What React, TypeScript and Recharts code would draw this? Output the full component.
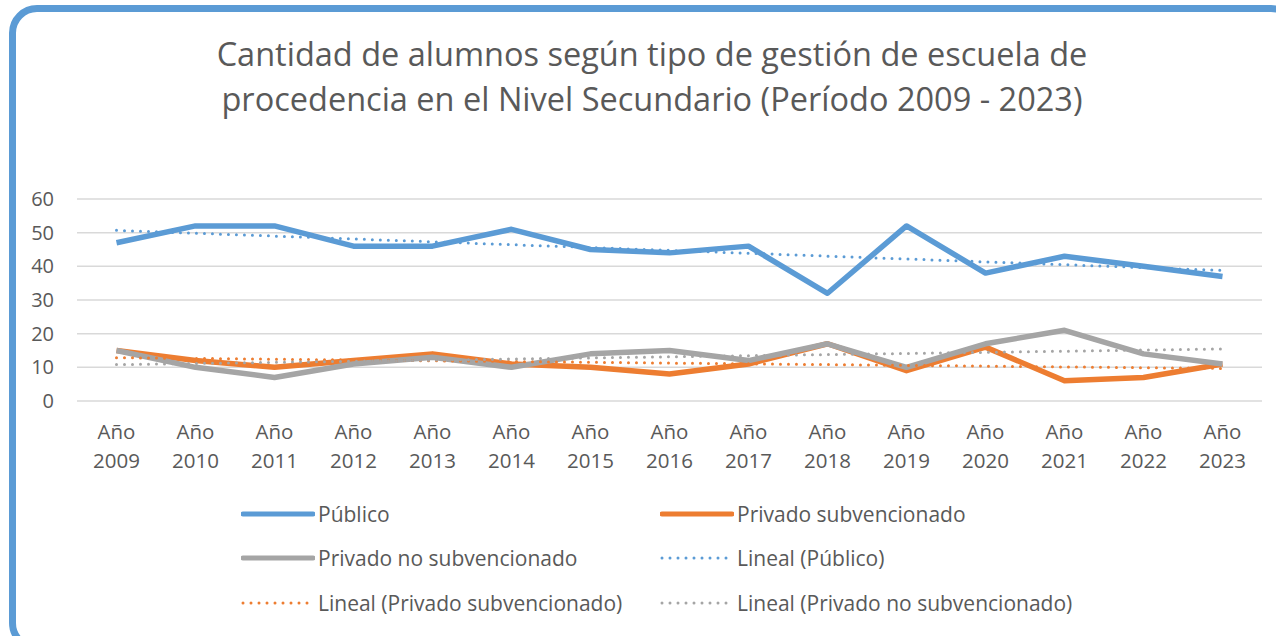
import { CartesianGrid, Line, LineChart, XAxis, YAxis } from "recharts"

const years = ["2009", "2010", "2011", "2012", "2013", "2014", "2015", "2016", "2017", "2018", "2019", "2020", "2021", "2022", "2023"]
const publico = [47, 52, 52, 46, 46, 51, 45, 44, 46, 32, 52, 38, 43, 40, 37]
const privadoSub = [15, 12, 10, 12, 14, 11, 10, 8, 11, 17, 9, 16, 6, 7, 11]
const privadoNoSub = [15, 10, 7, 11, 13, 10, 14, 15, 12, 17, 10, 17, 21, 14, 11]
const yTicks = [0, 10, 20, 30, 40, 50, 60]

const BLUE = "#5B9BD5"
const ORANGE = "#ED7D31"
const GRAY = "#A5A5A5"
const TEXT = "#595959"
const FONT = "'Open Sans', Lato, sans-serif"

// least squares fit, same as the Excel "Lineal" trendline
function linearTrend(values: number[]) {
  const n = values.length
  const mx = (n - 1) / 2
  const my = values.reduce((a, b) => a + b, 0) / n
  let num = 0
  let den = 0
  values.forEach((v, i) => {
    num += (i - mx) * (v - my)
    den += (i - mx) * (i - mx)
  })
  const slope = num / den
  return values.map((_, i) => my + slope * (i - mx))
}

const trendPub = linearTrend(publico)
const trendSub = linearTrend(privadoSub)
const trendNoSub = linearTrend(privadoNoSub)

const data = years.map((y, i) => ({
  name: y,
  publico: publico[i],
  privadoSub: privadoSub[i],
  privadoNoSub: privadoNoSub[i],
  trendPub: trendPub[i],
  trendSub: trendSub[i],
  trendNoSub: trendNoSub[i],
}))

const legendItems = [
  { label: "Público", color: BLUE, dotted: false, x: 241, y: 514 },
  { label: "Privado subvencionado", color: ORANGE, dotted: false, x: 660, y: 514 },
  { label: "Privado no subvencionado", color: GRAY, dotted: false, x: 241, y: 558 },
  { label: "Lineal (Público)", color: BLUE, dotted: true, x: 660, y: 558 },
  { label: "Lineal (Privado subvencionado)", color: ORANGE, dotted: true, x: 241, y: 603 },
  { label: "Lineal (Privado no subvencionado)", color: GRAY, dotted: true, x: 660, y: 603 },
]

function YearTick(props: any) {
  const { x, y, payload } = props
  return (
    <text x={x} y={y} textAnchor="middle" fill={TEXT} fontSize={20.5} fontFamily={FONT}>
      <tspan x={x} dy={30}>Año</tspan>
      <tspan x={x} dy={29}>{payload.value}</tspan>
    </text>
  )
}

export default function App() {
  return (
    <div style={{ position: "absolute", left: 0, top: 0, width: 1276, height: 636, overflow: "hidden", background: "#fff" }}>
      <div
        style={{
          position: "absolute",
          left: 9,
          top: 5,
          width: 1290,
          height: 646,
          border: `7px solid ${BLUE}`,
          borderRadius: 28,
          boxSizing: "border-box",
        }}
      />
      <div
        style={{
          position: "absolute",
          left: 0,
          top: 31,
          width: 1304,
          textAlign: "center",
          color: TEXT,
          fontFamily: FONT,
          fontSize: 32.5,
          lineHeight: "45px",
        }}
      >
        Cantidad de alumnos según tipo de gestión de escuela de
        <br />
        procedencia en el Nivel Secundario (Período 2009 - 2023)
      </div>
      <div style={{ position: "absolute", left: 0, top: 0 }}>
        <LineChart width={1276} height={636} data={data} margin={{ top: 199, right: 14, bottom: 175, left: 0 }}>
          <CartesianGrid horizontal vertical={false} stroke="#D9D9D9" strokeWidth={1.5} />
          <XAxis
            dataKey="name"
            axisLine={false}
            tickLine={false}
            height={60}
            tick={<YearTick />}
            interval={0}
            padding={{ left: 39.5, right: 39.5 }}
          />
          <YAxis
            domain={[0, 60]}
            ticks={yTicks}
            axisLine={false}
            tickLine={false}
            width={77}
            tick={{ fill: TEXT, fontSize: 20, fontFamily: FONT }}
            tickMargin={17}
          />
          <Line dataKey="publico" stroke={BLUE} strokeWidth={5.5} dot={false} isAnimationActive={false} strokeLinejoin="round" />
          <Line dataKey="privadoSub" stroke={ORANGE} strokeWidth={5.5} dot={false} isAnimationActive={false} strokeLinejoin="round" />
          <Line dataKey="privadoNoSub" stroke={GRAY} strokeWidth={5.5} dot={false} isAnimationActive={false} strokeLinejoin="round" />
          <Line dataKey="trendPub" stroke={BLUE} strokeWidth={3} strokeDasharray="0 8" strokeLinecap="round" dot={false} isAnimationActive={false} />
          <Line dataKey="trendSub" stroke={ORANGE} strokeWidth={3} strokeDasharray="0 8" strokeLinecap="round" dot={false} isAnimationActive={false} />
          <Line dataKey="trendNoSub" stroke={GRAY} strokeWidth={3} strokeDasharray="0 8" strokeLinecap="round" dot={false} isAnimationActive={false} />
        </LineChart>
      </div>
      {legendItems.map((item) => (
        <div
          key={item.label}
          style={{
            position: "absolute",
            left: item.x,
            top: item.y - 15,
            height: 30,
            display: "flex",
            alignItems: "center",
            fontFamily: FONT,
            fontSize: 21,
            color: TEXT,
            whiteSpace: "nowrap",
          }}
        >
          <svg width={74} height={10} style={{ marginRight: 3 }}>
            {item.dotted ? (
              <line x1={2} y1={5} x2={72} y2={5} stroke={item.color} strokeWidth={3} strokeDasharray="0 8" strokeLinecap="round" />
            ) : (
              <line x1={2} y1={5} x2={72} y2={5} stroke={item.color} strokeWidth={5} strokeLinecap="round" />
            )}
          </svg>
          {item.label}
        </div>
      ))}
    </div>
  )
}
